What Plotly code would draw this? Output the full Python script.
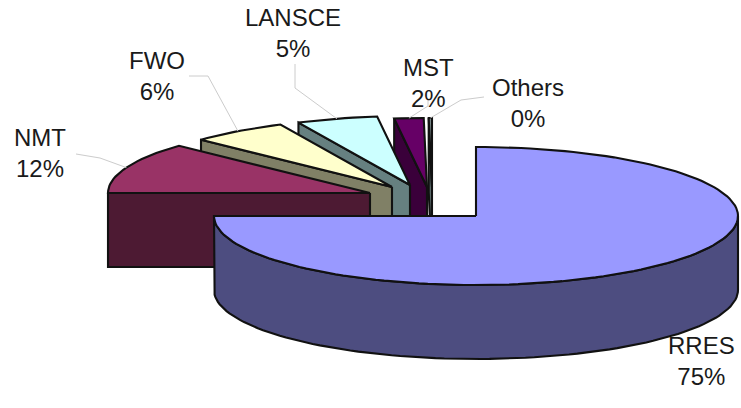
import numpy as np
import plotly.graph_objects as go

# ---- data ----
labels = ["RRES", "NMT", "FWO", "LANSCE", "MST", "Others"]
values = [75, 12, 6, 5, 1.8, 0.2]

# ---- style ----
top_colors = ["#9999ff", "#993366", "#ffffcc", "#ccffff", "#660066", "#7d8d8d"]
side_colors = ["#4d4d80", "#4d1a33", "#808066", "#668080", "#3a003a", "#5f6f6f"]
explode_offsets = [(0, 0), (-106, -23), (-84, -29), (-66, -31), (-49, -29), (-44, -29)]
label_pos = [(701, 361), (40, 153), (157, 76), (293, 33), (428, 83), (528, 103)]
leader_paths = [None, [(76, 154), (100, 158)], [(189, 76), (208, 76)],
                [(295, 64), (295, 88)], [(428, 100), (428, 106)], [(484, 97), (461, 100)]]

CX, CY, RX, RY, DEPTH = 476, 216, 262, 69, 74
W, H = 741, 408

total = sum(values)
fracs = [v / total for v in values]
starts = np.concatenate([[0], np.cumsum(fracs)[:-1]]) * 360
ends = np.cumsum(fracs) * 360


def pt(cx, cy, ang):
    r = np.radians(ang)
    return cx + RX * np.sin(r), cy - RY * np.cos(r)


def arc(cx, cy, a, b):
    angs = np.linspace(a, b, max(2, int(abs(b - a) / 2) + 2))
    xs = cx + RX * np.sin(np.radians(angs))
    ys = cy - RY * np.cos(np.radians(angs))
    return list(xs), list(ys)


fig = go.Figure()


def poly(xs, ys, fill):
    fig.add_trace(go.Scatter(
        x=list(xs) + [xs[0]], y=list(ys) + [ys[0]], mode="lines", fill="toself",
        fillcolor=fill, line=dict(color="#111111", width=2.1),
        hoverinfo="skip", showlegend=False))


for i in reversed(range(len(labels))):
    a, b = starts[i], ends[i]
    cx, cy = CX + explode_offsets[i][0], CY + explode_offsets[i][1]
    # cut faces
    for ang, vis in ((a, np.sin(np.radians(a)) < -1e-6), (b, np.sin(np.radians(b)) > 1e-6)):
        if vis:
            ex, ey = pt(cx, cy, ang)
            poly([cx, ex, ex, cx], [cy, ey, ey + DEPTH, cy + DEPTH], side_colors[i])
    # outer wall
    lo, hi = max(a, 90), min(b, 270)
    if hi > lo:
        xs, ys = arc(cx, cy, lo, hi)
        poly(xs + xs[::-1], ys + [y + DEPTH for y in ys[::-1]], side_colors[i])
    # top face
    xs, ys = arc(cx, cy, a, b)
    poly([cx] + xs, [cy] + ys, top_colors[i])

# leader lines
for i in range(len(labels)):
    if leader_paths[i] is None:
        continue
    cx, cy = CX + explode_offsets[i][0], CY + explode_offsets[i][1]
    mx, my = pt(cx, cy, (starts[i] + ends[i]) / 2)
    px = [p[0] for p in leader_paths[i]] + [mx]
    py = [p[1] for p in leader_paths[i]] + [my]
    fig.add_trace(go.Scatter(x=px, y=py, mode="lines",
                             line=dict(color="#cccccc", width=1),
                             hoverinfo="skip", showlegend=False))

# labels
for i, name in enumerate(labels):
    pct = round(fracs[i] * 100)
    fig.add_annotation(x=label_pos[i][0], y=label_pos[i][1], text=f"{name}<br>{pct}%",
                       showarrow=False, xanchor="center", yanchor="middle",
                       font=dict(family="Liberation Sans, Arial", size=24, color="#1a1a1a"))

fig.update_layout(
    width=W, height=H, margin=dict(l=0, r=0, t=0, b=0),
    paper_bgcolor="white", plot_bgcolor="white",
    xaxis=dict(range=[0, W], visible=False, fixedrange=True),
    yaxis=dict(range=[H, 0], visible=False, fixedrange=True),
)

fig.write_html("out.html")
